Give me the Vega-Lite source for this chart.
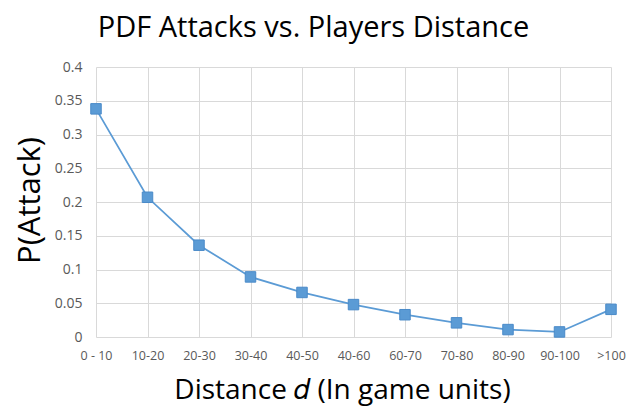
{
  "$schema": "https://vega.github.io/schema/vega-lite/v6.json",
  "autosize": "none",
  "width": 515,
  "height": 270,
  "padding": {"left": 96, "top": 67, "right": 16, "bottom": 75},
  "background": "white",
  "title": {"text": "PDF Attacks vs. Players Distance", "fontSize": 29, "font": "Open Sans", "fontWeight": "normal", "color": "#000000", "dx": -40, "dy": 20, "offset": 14, "baseline": "alphabetic"},
  "data": {"values": [
    {"range": "0 - 10", "p": 0.338},
    {"range": "10-20", "p": 0.207},
    {"range": "20-30", "p": 0.136},
    {"range": "30-40", "p": 0.089},
    {"range": "40-50", "p": 0.066},
    {"range": "40-60", "p": 0.048},
    {"range": "60-70", "p": 0.033},
    {"range": "70-80", "p": 0.021},
    {"range": "80-90", "p": 0.011},
    {"range": "90-100", "p": 0.0075},
    {"range": ">100", "p": 0.041}
  ]},
  "encoding": {
    "x": {"field": "range", "type": "ordinal", "sort": null, "scale": {"type": "point", "padding": 0},
      "axis": {"title": "Distance 𝑑 (In game units)", "labelAngle": 0, "labelFontSize": 12.5, "labelFont": "Open Sans", "labelColor": "#595959", "labelPadding": 12, "ticks": false, "domain": false, "grid": true, "gridColor": "#d9d9d9", "titleFont": "Open Sans", "titleFontSize": 28, "titleFontWeight": "normal", "titleColor": "#000000", "titleX": 246, "titleY": 53, "titleBaseline": "middle"}},
    "y": {"field": "p", "type": "quantitative", "scale": {"domain": [0, 0.4]},
      "axis": {"title": "P(Attack)", "values": [0, 0.05, 0.1, 0.15, 0.2, 0.25, 0.3, 0.35, 0.4], "format": "~g", "labelOverlap": false, "labelFontSize": 14, "labelFont": "Open Sans", "labelColor": "#595959", "labelPadding": 14, "ticks": false, "domain": false, "grid": true, "gridColor": "#d9d9d9", "titleFont": "Open Sans", "titleFontSize": 31, "titleFontWeight": "normal", "titleColor": "#000000", "titleX": -66, "titleY": 133, "titleBaseline": "middle", "titleAngle": -90}}
  },
  "layer": [
    {"mark": {"type": "line", "color": "#5b9bd5", "strokeWidth": 1.75}},
    {"mark": {"type": "point", "shape": "square", "filled": true, "size": 110, "color": "#5b9bd5", "opacity": 1, "stroke": "#4a8ac8", "strokeWidth": 1}}
  ],
  "config": {"view": {"stroke": null}}
}
